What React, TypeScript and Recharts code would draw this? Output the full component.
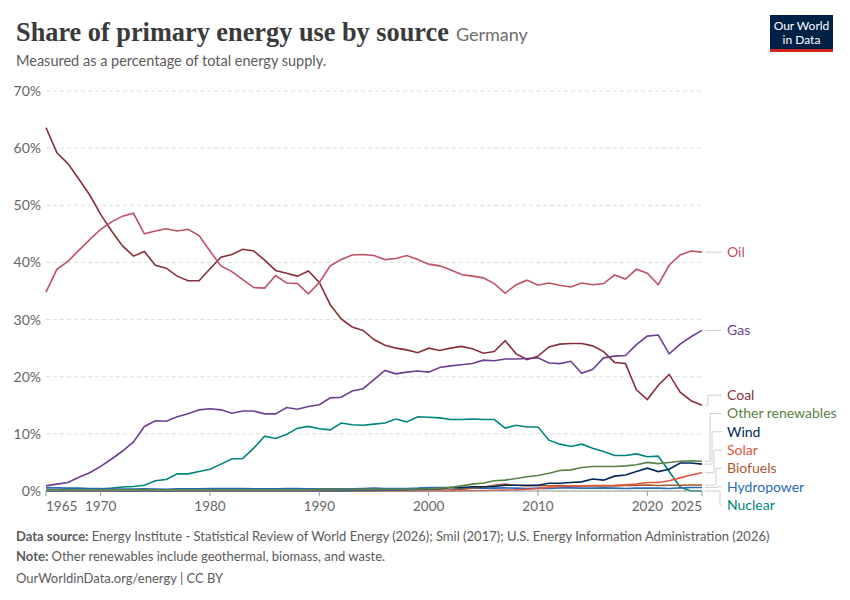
import React from 'react'
import { LineChart, Line, XAxis, YAxis, CartesianGrid } from 'recharts'

const years = Array.from({ length: 61 }, (_, i) => 1965 + i)

const coal = [
  63.6, 59.2, 57.3, 54.6, 51.8, 48.4, 45.5, 42.9, 41.1, 41.9,
  39.5, 39.0, 37.6, 36.8, 36.8, 38.9, 40.9, 41.4, 42.3, 42.0,
  40.4, 38.6, 38.1, 37.6, 38.5, 36.5, 32.6, 30.1, 28.7, 28.1,
  26.5, 25.5, 25.0, 24.7, 24.2, 25.0, 24.6, 25.0, 25.3, 24.9,
  24.1, 24.4, 26.3, 24.0, 23.0, 23.6, 25.2, 25.7, 25.8, 25.8,
  25.4, 24.4, 22.5, 22.3, 17.7, 16.0, 18.5, 20.4, 17.3, 15.8, 15.0,
]
const oil = [
  34.8, 38.8, 40.2, 42.1, 44.0, 45.8, 47.1, 48.1, 48.6, 45.0,
  45.5, 45.9, 45.5, 45.8, 44.7, 42.0, 39.4, 38.4, 37.0, 35.6,
  35.5, 37.7, 36.4, 36.3, 34.5, 36.5, 39.4, 40.5, 41.3, 41.4,
  41.2, 40.5, 40.7, 41.2, 40.5, 39.7, 39.4, 38.7, 37.9, 37.6,
  37.3, 36.3, 34.6, 36.1, 36.9, 36.0, 36.4, 36.0, 35.7, 36.4,
  36.1, 36.3, 37.8, 37.1, 38.8, 38.1, 36.1, 39.5, 41.3, 42.0, 41.8,
]
const gas = [
  0.9, 1.2, 1.5, 2.4, 3.2, 4.3, 5.6, 7.0, 8.6, 11.3,
  12.3, 12.2, 13.0, 13.5, 14.2, 14.4, 14.2, 13.6, 14.0, 14.0,
  13.5, 13.5, 14.6, 14.3, 14.8, 15.1, 16.3, 16.4, 17.5, 17.9,
  19.5, 21.1, 20.5, 20.8, 21.0, 20.8, 21.6, 21.9, 22.1, 22.3,
  22.9, 22.8, 23.1, 23.1, 23.2, 23.3, 22.4, 22.3, 22.7, 20.6,
  21.3, 23.3, 23.6, 23.7, 25.6, 27.1, 27.3, 24.0, 25.7, 27.0, 28.1,
]
const nuclear = [
  0.0, 0.0, 0.1, 0.1, 0.2, 0.35, 0.5, 0.7, 0.8, 1.0,
  1.8, 2.0, 3.0, 3.0, 3.4, 3.8, 4.7, 5.6, 5.7, 7.5,
  9.6, 9.2, 9.9, 11.0, 11.3, 10.9, 10.7, 11.9, 11.6, 11.5,
  11.7, 11.9, 12.6, 12.1, 13.0, 12.9, 12.8, 12.5, 12.5, 12.6,
  12.5, 12.5, 11.0, 11.5, 11.2, 11.2, 8.9, 8.2, 7.8, 8.2,
  7.5, 6.9, 6.2, 6.2, 6.5, 6.0, 6.1, 3.4, 0.7, 0.0, 0.0,
]
const otherRenewables = [
  0.2, 0.2, 0.2, 0.2, 0.2, 0.2, 0.2, 0.2, 0.2, 0.2,
  0.2, 0.2, 0.2, 0.2, 0.2, 0.2, 0.2, 0.2, 0.2, 0.2,
  0.2, 0.2, 0.2, 0.2, 0.2, 0.3, 0.3, 0.3, 0.3, 0.3,
  0.3, 0.3, 0.3, 0.3, 0.3, 0.4, 0.5, 0.6, 0.9, 1.2,
  1.4, 1.8, 1.9, 2.2, 2.5, 2.7, 3.1, 3.6, 3.7, 4.1,
  4.3, 4.3, 4.3, 4.4, 4.6, 5.0, 4.8, 5.0, 5.2, 5.3, 5.2,
]
const wind = [
  0, 0, 0, 0, 0, 0, 0, 0, 0, 0,
  0, 0, 0, 0, 0, 0, 0, 0, 0, 0,
  0, 0, 0, 0, 0, 0, 0.01, 0.02, 0.04, 0.06,
  0.1, 0.12, 0.15, 0.2, 0.25, 0.35, 0.4, 0.6, 0.6, 0.75,
  0.75, 0.8, 1.0, 1.0, 1.0, 1.0, 1.35, 1.35, 1.5, 1.6,
  2.1, 1.9, 2.6, 2.8, 3.4, 4.0, 3.4, 3.8, 4.9, 4.9, 4.7,
]
const solar = [
  0, 0, 0, 0, 0, 0, 0, 0, 0, 0,
  0, 0, 0, 0, 0, 0, 0, 0, 0, 0,
  0, 0, 0, 0, 0, 0, 0, 0, 0, 0,
  0, 0, 0, 0, 0, 0.01, 0.02, 0.03, 0.04, 0.05,
  0.1, 0.12, 0.15, 0.2, 0.3, 0.45, 0.6, 0.8, 0.85, 0.9,
  0.95, 0.95, 1.0, 1.1, 1.2, 1.5, 1.5, 1.8, 2.3, 2.8, 3.2,
]
const biofuels = [
  0, 0, 0, 0, 0, 0, 0, 0, 0, 0,
  0, 0, 0, 0, 0, 0, 0, 0, 0, 0,
  0, 0, 0, 0, 0, 0, 0, 0.02, 0.03, 0.04,
  0.05, 0.05, 0.06, 0.07, 0.08, 0.1, 0.15, 0.2, 0.3, 0.5,
  0.7, 1.0, 1.2, 1.0, 0.9, 0.95, 0.9, 0.95, 0.85, 0.9,
  0.9, 0.9, 0.9, 0.95, 0.95, 1.05, 0.95, 1.0, 1.0, 1.05, 1.05,
]
const hydropower = [
  0.55, 0.55, 0.5, 0.5, 0.45, 0.45, 0.35, 0.35, 0.35, 0.4,
  0.35, 0.3, 0.4, 0.4, 0.4, 0.45, 0.45, 0.45, 0.45, 0.4,
  0.4, 0.4, 0.45, 0.45, 0.4, 0.4, 0.4, 0.4, 0.4, 0.45,
  0.5, 0.45, 0.45, 0.45, 0.5, 0.6, 0.6, 0.6, 0.45, 0.5,
  0.5, 0.5, 0.55, 0.5, 0.45, 0.5, 0.45, 0.55, 0.55, 0.5,
  0.5, 0.55, 0.5, 0.45, 0.5, 0.5, 0.5, 0.45, 0.55, 0.6, 0.6,
]

const xTicks = [1965, 1970, 1980, 1990, 2000, 2010, 2020, 2025]
const yTicks = [0, 10, 20, 30, 40, 50, 60, 70]

const series = [
  { key: 'oil', name: 'Oil', color: '#c15065', values: oil },
  { key: 'gas', name: 'Gas', color: '#6d3e91', values: gas },
  { key: 'coal', name: 'Coal', color: '#883039', values: coal },
  { key: 'otherRenewables', name: 'Other renewables', color: '#578145', values: otherRenewables },
  { key: 'wind', name: 'Wind', color: '#00295b', values: wind },
  { key: 'solar', name: 'Solar', color: '#e0563f', values: solar },
  { key: 'biofuels', name: 'Biofuels', color: '#a8582d', values: biofuels },
  { key: 'hydropower', name: 'Hydropower', color: '#286bbb', values: hydropower },
  { key: 'nuclear', name: 'Nuclear', color: '#00847e', values: nuclear },
]

const chartData = years.map((year, i) => {
  const row: Record<string, number> = { year }
  series.forEach(s => { row[s.key] = s.values[i] })
  return row
})

// plot box (used only to space the end labels)
const PLOT_TOP = 91
const PLOT_H = 400
const Y_MAX = 70
const LABEL_GAP = 18.3
const LABEL_MAX_Y = 505

const endPx = (v: number) => PLOT_TOP + (1 - v / Y_MAX) * PLOT_H

// push overlapping end labels apart
const labelPos: Record<string, { y: number; rank: number }> = (() => {
  const sorted = [...series].sort(
    (a, b) => b.values[b.values.length - 1] - a.values[a.values.length - 1]
  )
  const ys = sorted.map(s => endPx(s.values[s.values.length - 1]))
  for (let i = 1; i < ys.length; i++) ys[i] = Math.max(ys[i], ys[i - 1] + LABEL_GAP)
  ys[ys.length - 1] = Math.min(ys[ys.length - 1], LABEL_MAX_Y)
  for (let i = ys.length - 2; i >= 0; i--) ys[i] = Math.min(ys[i], ys[i + 1] - LABEL_GAP)
  const out: Record<string, { y: number; rank: number }> = {}
  let rank = 0
  sorted.forEach((s, i) => {
    const moved = Math.abs(ys[i] - endPx(s.values[s.values.length - 1])) > 0.5
    out[s.key] = { y: ys[i], rank: moved ? rank++ : -1 }
  })
  return out
})()

const FONT = 'Lato, "Noto Sans", sans-serif'

function EndLabel(props: any, s: typeof series[number]) {
  const { cx, cy, index } = props
  if (index !== years.length - 1 || cx == null) return <g key={`d-${s.key}-${index}`} />
  const pos = labelPos[s.key]
  const ly = pos.y
  const d = pos.rank < 0
    ? `M${cx + 3},${cy} H${cx + 20}`
    : `M${cx + 3},${cy} H${cx + 6 + pos.rank * 2} V${ly} H${cx + 20}`
  return (
    <g key={`d-${s.key}-${index}`}>
      <path d={d} fill="none" stroke="#cfcfcf" strokeWidth={1} />
      <text x={cx + 25} y={ly} dy="0.35em" fill={s.color} fontSize={14} fontFamily={FONT}>
        {s.name}
      </text>
    </g>
  )
}

function XTick(props: any) {
  const { x, y, payload } = props
  const v = payload.value
  const anchor = v === xTicks[0] ? 'start' : v === xTicks[xTicks.length - 1] ? 'end' : 'middle'
  return (
    <text x={x} y={y} dy="0.71em" textAnchor={anchor} fill="#666" fontSize={13.5} fontFamily={FONT}>
      {v}
    </text>
  )
}

export default function App() {
  return (
    <div style={{ position: 'absolute', left: 0, top: 0, width: 850, height: 600, background: '#fff' }}>
      <svg width={850} height={600} style={{ position: 'absolute', left: 0, top: 0 }}>
        <text x={16} y={41} fontFamily='"Liberation Serif", "DejaVu Serif", serif' fontSize={26.3} fontWeight={600} fill="#3a3a3a">
          Share of primary energy use by source
          <tspan dx={7} fontFamily={FONT} fontSize={18} fontWeight={400} fill="#6e6e6e">Germany</tspan>
        </text>
        <text x={16} y={66} fontFamily={FONT} fontSize={14.5} fill="#5b5b5b">
          Measured as a percentage of total energy supply.
        </text>
        <rect x={770} y={15} width={63} height={37} fill="#002147" />
        <rect x={770} y={49} width={63} height={3} fill="#ce261e" />
        <text x={801.5} y={30} textAnchor="middle" fontFamily={FONT} fontSize={12} fill="#fff">Our World</text>
        <text x={801.5} y={44} textAnchor="middle" fontFamily={FONT} fontSize={12} fill="#fff">in Data</text>
        <text x={16} y={541} fontFamily={FONT} fontSize={13} fill="#5b5b5b">
          <tspan fontWeight={700}>Data source:</tspan> Energy Institute - Statistical Review of World Energy (2026); Smil (2017); U.S. Energy Information Administration (2026)
        </text>
        <text x={16} y={561} fontFamily={FONT} fontSize={13} fill="#5b5b5b">
          <tspan fontWeight={700}>Note:</tspan> Other renewables include geothermal, biomass, and waste.
        </text>
        <text x={16} y={583} fontFamily={FONT} fontSize={13} fill="#5b5b5b">
          OurWorldinData.org/energy | CC BY
        </text>
      </svg>
      <div style={{ position: 'absolute', left: 0, top: 0 }}>
        <LineChart width={850} height={530} data={chartData} margin={{ top: PLOT_TOP, right: 148, bottom: 9, left: 0 }}>
          <CartesianGrid vertical={false} stroke="#dddddd" strokeDasharray="4 3" />
          <XAxis
            dataKey="year"
            type="number"
            domain={[1965, 2025]}
            ticks={xTicks}
            height={30}
            stroke="#999"
            tickSize={5}
            tickMargin={5}
            tick={<XTick />}
            interval={0}
          />
          <YAxis
            domain={[0, Y_MAX]}
            ticks={yTicks}
            width={46}
            axisLine={false}
            tickLine={false}
            tickSize={0}
            tickMargin={5}
            tickFormatter={(v: number) => `${v}%`}
            tick={{ fill: '#666', fontSize: 14, fontFamily: FONT }}
          />
          {[...series].reverse().map(s => (
            <Line
              key={s.key}
              dataKey={s.key}
              name={s.name}
              stroke={s.color}
              strokeWidth={1.6}
              dot={(p: any) => EndLabel(p, s)}
              activeDot={false}
              isAnimationActive={false}
              type="linear"
            />
          ))}
        </LineChart>
      </div>
    </div>
  )
}
